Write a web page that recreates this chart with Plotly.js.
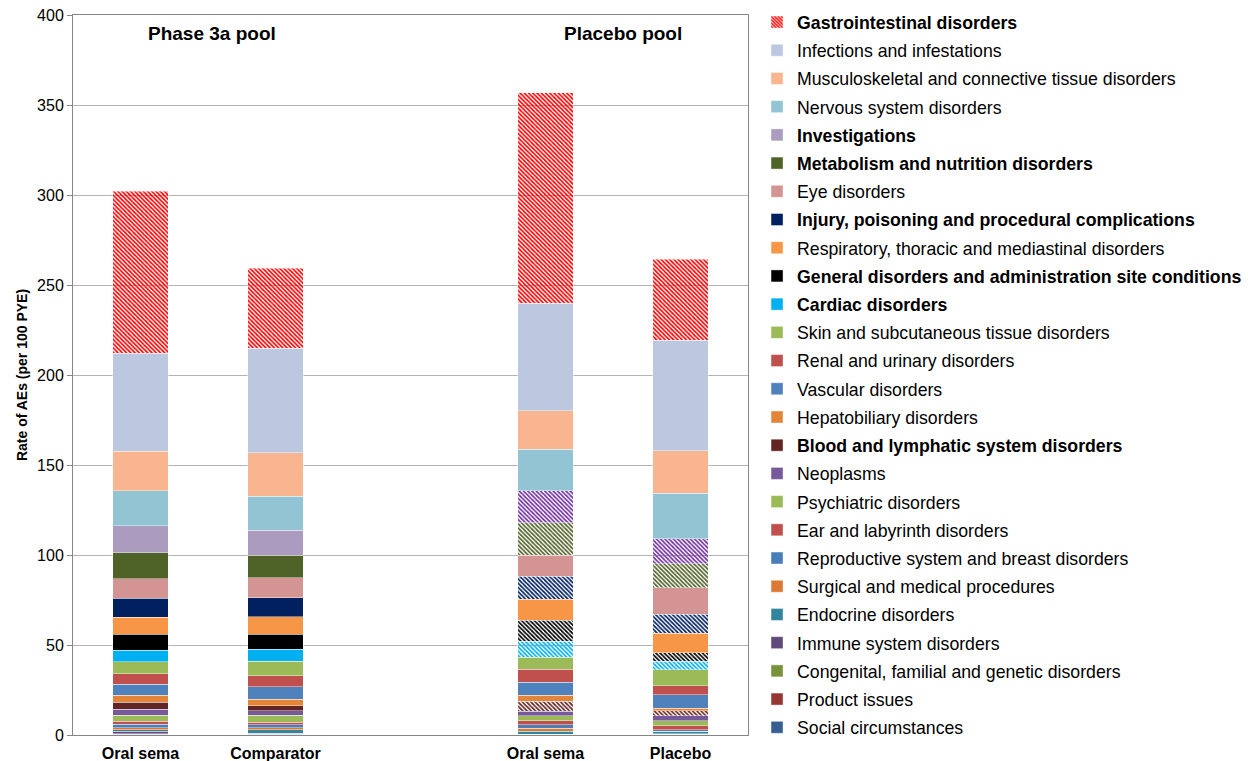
<!DOCTYPE html>
<html>
<head>
<meta charset="utf-8">
<script src="https://cdn.plot.ly/plotly-3.0.1.min.js"></script>
<style>
  html, body { margin: 0; padding: 0; background: #ffffff; }
  #chart { width: 1248px; height: 761px; }
</style>
</head>
<body>
<div id="chart"></div>
<script>
// System organ classes, from bottom of stack to top
var socNames = [
  "Social circumstances",
  "Product issues",
  "Congenital, familial and genetic disorders",
  "Immune system disorders",
  "Endocrine disorders",
  "Surgical and medical procedures",
  "Reproductive system and breast disorders",
  "Ear and labyrinth disorders",
  "Psychiatric disorders",
  "Neoplasms",
  "Blood and lymphatic system disorders",
  "Hepatobiliary disorders",
  "Vascular disorders",
  "Renal and urinary disorders",
  "Skin and subcutaneous tissue disorders",
  "Cardiac disorders",
  "General disorders and administration site conditions",
  "Respiratory, thoracic and mediastinal disorders",
  "Injury, poisoning and procedural complications",
  "Eye disorders",
  "Metabolism and nutrition disorders",
  "Investigations",
  "Nervous system disorders",
  "Musculoskeletal and connective tissue disorders",
  "Infections and infestations",
  "Gastrointestinal disorders"
];
// SOCs shown in bold in the legend (hatched in the placebo pool)
var socBold = [0,0,0,0,0,0,0,0,0,0,1,0,0,0,0,1,1,0,1,0,1,1,0,0,0,1];

// Bar categories
var barPositions = [0, 1, 3, 4];
var barLabels = ["Oral sema", "Comparator", "Oral sema", "Placebo"];
var poolLabels = ["Phase 3a pool", "Placebo pool"];

// Rate of AEs (per 100 PYE), same order as socNames
var phase3aOralSema = [0.3,0.2,0.3,1.2,0.8,1.3,1.8,1.7,3.3,3.5,3.7,4.1,5.9,5.8,6.7,6.4,9.1,9.3,10.7,10.8,14.4,15.0,19.3,22.0,54.4,90.2];
var phase3aComparator = [0.3,0.1,0.2,0.5,1.8,1.0,1.8,1.5,3.7,2.6,2.8,3.7,6.7,6.1,8.3,6.5,8.3,9.8,10.6,11.1,12.6,13.7,18.9,24.1,58.3,44.4];
var placeboPoolOralSema = [0.1,0.1,0.1,0.1,1.8,1.5,1.9,2.3,2.8,2.4,5.6,3.5,7.2,7.1,6.6,8.9,11.7,11.7,12.7,11.7,18.0,17.9,23.0,21.5,59.8,116.7];
var placeboPoolPlacebo = [0.2,0.1,0.1,0.3,1.0,0.3,0.8,2.4,2.7,2.8,2.7,1.6,7.4,5.0,8.9,4.8,4.6,10.8,10.5,14.9,13.3,13.9,25.2,23.7,61.4,45.0];

// Colours
var socColors = [
  "#376092","#953735","#77933C","#604A7B","#31859C","#DB7A35","#4A7EBB","#C0504D",
  "#9BBB59","#76599A","#632523","#E38539","#4F81BD","#C0504D","#9BBB59","#00B0F0",
  "#000000","#F79646","#002060","#D49494","#4F6228","#AA9BBF","#93C4D4","#F9B590",
  "#BCC8E0","#FF0000"
];
var placeboPoolColors = socColors.slice();
placeboPoolColors[21] = "#7030A0";

var traces = [];
for (var i = 0; i < socNames.length; i++) {
  var isGI = (i === socNames.length - 1);
  var hatched = socBold[i] === 1;
  var shapes = isGI ? ["\\", "\\", "\\", "\\"] : (hatched ? ["", "", "\\", "\\"] : ["", "", "", ""]);
  var cols = [socColors[i], socColors[i], placeboPoolColors[i], placeboPoolColors[i]];
  traces.push({
    type: "bar",
    name: hatched ? "<b>" + socNames[i] + "</b>" : socNames[i],
    legendgroup: "g" + i,
    legendrank: socNames.length - i,
    x: barPositions,
    y: [phase3aOralSema[i], phase3aComparator[i], placeboPoolOralSema[i], placeboPoolPlacebo[i]],
    width: 0.41,
    marker: {
      color: cols,
      line: { width: 0.6, color: "rgba(255,255,255,0.7)" },
      pattern: {
        shape: shapes,
        fgcolor: cols,
        bgcolor: isGI ? "#FFC8C8" : "#ffffff",
        fillmode: "replace",
        size: 3,
        solidity: 0.55
      }
    },
    hoverinfo: "name+y"
  });
}

var fontFam = "Liberation Sans, Arial, sans-serif";

var layout = {
  width: 1248,
  height: 761,
  barmode: "stack",
  paper_bgcolor: "#ffffff",
  plot_bgcolor: "#ffffff",
  font: { family: fontFam, color: "#000000", size: 16 },
  margin: { l: 73, r: 500, t: 15, b: 26, autoexpand: false },
  showlegend: true,
  legend: {
    xref: "container",
    yref: "container",
    x: 0.6066,
    xanchor: "left",
    y: 0.9947,
    yanchor: "top",
    maxheight: 761,
    traceorder: "grouped",
    tracegroupgap: 2.2,
    font: { family: fontFam, size: 17.7, color: "#000000" },
    bgcolor: "rgba(0,0,0,0)"
  },
  xaxis: {
    range: [-0.5, 4.5],
    tickvals: barPositions,
    ticktext: barLabels,
    tickfont: { family: fontFam, size: 16, weight: "bold", color: "#000000" },
    ticklabelstandoff: 4,
    showgrid: false,
    zeroline: false,
    showline: true,
    mirror: true,
    linecolor: "#868686",
    linewidth: 1,
    ticks: ""
  },
  yaxis: {
    range: [0, 400],
    dtick: 50,
    tick0: 0,
    showgrid: true,
    gridcolor: "#B3B3B3",
    gridwidth: 1,
    zeroline: false,
    showline: true,
    mirror: true,
    linecolor: "#868686",
    linewidth: 1,
    ticks: "outside",
    ticklen: 5,
    tickcolor: "#868686",
    tickfont: { family: fontFam, size: 16, color: "#000000" },
    title: {
      text: "Rate of AEs (per 100 PYE)",
      font: { family: fontFam, size: 14, weight: "bold", color: "#000000" },
      standoff: 6
    }
  },
  annotations: [
    {
      text: poolLabels[0],
      xref: "paper", yref: "paper",
      x: 0.206, y: 0.974,
      xanchor: "center", yanchor: "middle",
      showarrow: false,
      font: { family: fontFam, size: 19, weight: "bold", color: "#000000" }
    },
    {
      text: poolLabels[1],
      xref: "paper", yref: "paper",
      x: 0.815, y: 0.974,
      xanchor: "center", yanchor: "middle",
      showarrow: false,
      font: { family: fontFam, size: 19, weight: "bold", color: "#000000" }
    }
  ]
};

Plotly.newPlot("chart", traces, layout, { displayModeBar: false, staticPlot: true });
</script>
</body>
</html>
